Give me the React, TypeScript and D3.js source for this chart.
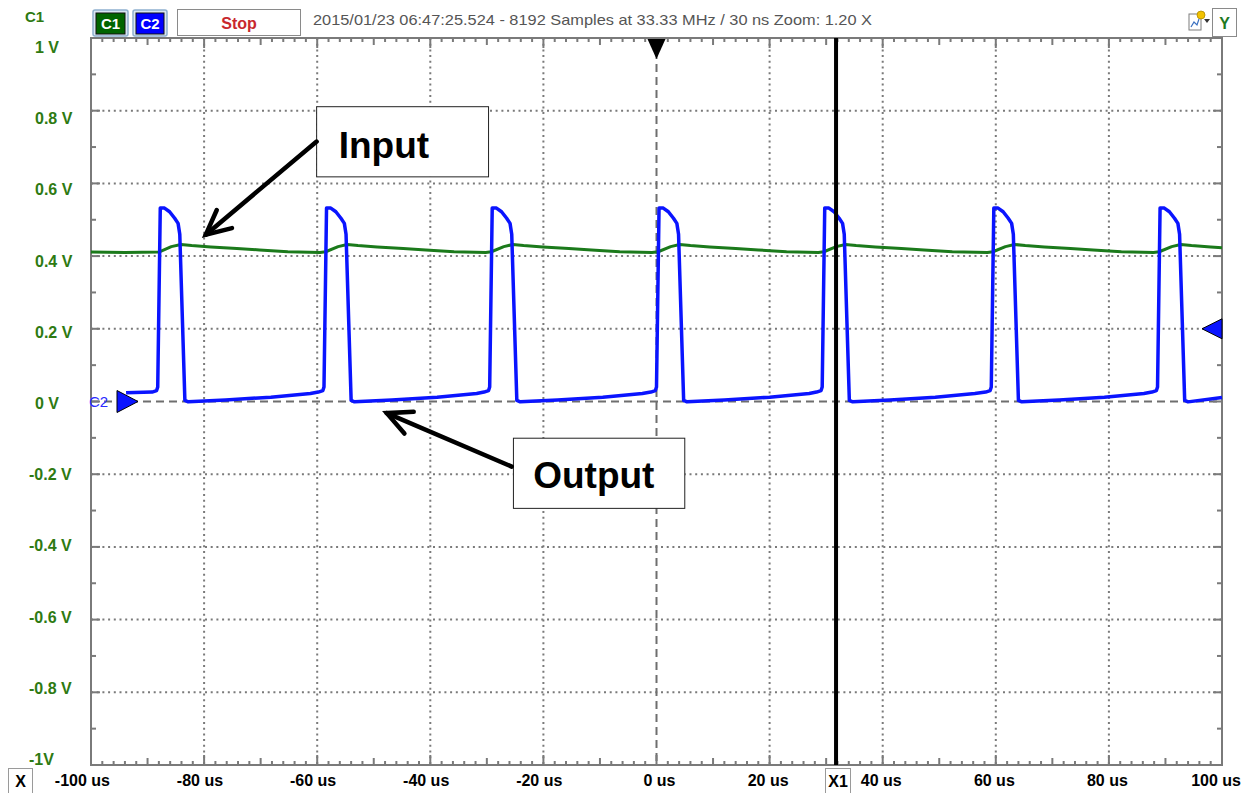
import React from "react";
import * as d3 from "d3";

const layout = {
  width: 1253,
  height: 793,
  left: 91,
  right: 1222,
  top: 38,
  bottom: 765
};

// time axis (us) and voltage axis (V)
const timeTicks = [-100, -80, -60, -40, -20, 0, 20, 40, 60, 80, 100];
const voltTicks = [1, 0.8, 0.6, 0.4, 0.2, 0, -0.2, -0.4, -0.6, -0.8, -1];
const voltLabels = ["1 V", "0.8 V", "0.6 V", "0.4 V", "0.2 V", "0 V", "-0.2 V", "-0.4 V", "-0.6 V", "-0.8 V", "-1V"];

const cursorX1 = 31.75;
const triggerLevel = 0.2;

// C1 - input (green), [time us, volts]
const inputTrace = [
  [-100, 0.411], [-94, 0.41], [-88.0, 0.411], [-85.8, 0.426], [-84.1, 0.432], [-82.2, 0.429],
  [-78.8, 0.425], [-74.2, 0.421], [-70.2, 0.417], [-65.2, 0.412], [-59.5, 0.41],
  [-58.5, 0.412], [-56.3, 0.426], [-54.7, 0.432], [-52.8, 0.429], [-49.4, 0.425],
  [-44.8, 0.421], [-40.8, 0.417], [-35.8, 0.412], [-30.2, 0.41],
  [-29.2, 0.412], [-27.0, 0.426], [-25.4, 0.432], [-23.5, 0.429], [-20.1, 0.425],
  [-15.5, 0.421], [-11.5, 0.417], [-6.5, 0.412], [-0.8, 0.41],
  [0.3, 0.412], [2.5, 0.426], [4.1, 0.432], [6.0, 0.429], [9.4, 0.425],
  [14.0, 0.421], [18.0, 0.417], [23.0, 0.412], [28.6, 0.41],
  [29.6, 0.412], [31.8, 0.426], [33.4, 0.432], [35.3, 0.429], [38.7, 0.425],
  [43.3, 0.421], [47.3, 0.417], [52.3, 0.412], [58.5, 0.41],
  [59.5, 0.412], [61.7, 0.426], [63.3, 0.432], [65.2, 0.429], [68.6, 0.425],
  [73.2, 0.421], [77.2, 0.417], [82.2, 0.412], [87.9, 0.41],
  [88.9, 0.412], [91.1, 0.426], [92.7, 0.432], [94.6, 0.429], [98.0, 0.425], [100, 0.423]
];

// C2 - output (blue), [time us, volts]
const outputTrace = [
  [-93.8, 0.024], [-89.2, 0.026], [-88.4, 0.03], [-88.2, 0.04], [-87.75, 0.532], [-87.0, 0.532],
  [-86.1, 0.522], [-85.2, 0.504], [-84.6, 0.49], [-84.3, 0.46], [-83.4, 0.003], [-82.8, -0.001],
  [-76.2, 0.004], [-68.2, 0.012], [-61.2, 0.022], [-59.8, 0.026],
  [-59.0, 0.03], [-58.8, 0.04], [-58.35, 0.532], [-57.6, 0.532], [-56.7, 0.522], [-55.8, 0.504],
  [-55.2, 0.49], [-54.9, 0.46], [-54.0, 0.003], [-53.4, -0.001], [-46.8, 0.004], [-38.8, 0.012],
  [-31.8, 0.022], [-30.5, 0.026],
  [-29.7, 0.03], [-29.5, 0.04], [-29.05, 0.532], [-28.3, 0.532], [-27.4, 0.522], [-26.5, 0.504],
  [-25.9, 0.49], [-25.6, 0.46], [-24.7, 0.003], [-24.1, -0.001], [-17.5, 0.004], [-9.5, 0.012],
  [-2.5, 0.022], [-1.0, 0.026],
  [-0.2, 0.03], [0, 0.04], [0.45, 0.532], [1.2, 0.532], [2.1, 0.522], [3.0, 0.504],
  [3.6, 0.49], [3.9, 0.46], [4.8, 0.003], [5.4, -0.001], [12.0, 0.004], [20.0, 0.012],
  [27.0, 0.022], [28.3, 0.026],
  [29.1, 0.03], [29.3, 0.04], [29.75, 0.532], [30.5, 0.532], [31.4, 0.522], [32.3, 0.504],
  [32.9, 0.49], [33.2, 0.46], [34.1, 0.003], [34.7, -0.001], [41.3, 0.004], [49.3, 0.012],
  [56.3, 0.022], [58.2, 0.026],
  [59.0, 0.03], [59.2, 0.04], [59.65, 0.532], [60.4, 0.532], [61.3, 0.522], [62.2, 0.504],
  [62.8, 0.49], [63.1, 0.46], [64.0, 0.003], [64.6, -0.001], [71.2, 0.004], [79.2, 0.012],
  [86.2, 0.022], [87.6, 0.026],
  [88.4, 0.03], [88.6, 0.04], [89.05, 0.532], [89.8, 0.532], [90.7, 0.522], [91.6, 0.504],
  [92.2, 0.49], [92.5, 0.46], [93.4, 0.003], [94.0, -0.001], [100, 0.011]
];

// callouts in data units: box [t0, t1, v0, v1], text anchor, arrow start and tip
const callouts = [
  { label: "Input", box: [-60.1, -29.7, 0.811, 0.618], text: [-56.2, 0.669], from: [-60.1, 0.715], tip: [-79.7, 0.459] },
  { label: "Output", box: [-25.3, 5.0, -0.101, -0.294], text: [-21.8, -0.239], from: [-25.6, -0.179], tip: [-47.7, -0.032] }
];

const sans = "'Liberation Sans', Arial, sans-serif";
const labelGreen = "#2e7a12";

const App = () => {
  const xScale = d3.scaleLinear().domain([-100, 100]).range([layout.left, layout.right]);
  const yScale = d3.scaleLinear().domain([-1, 1]).range([layout.bottom, layout.top]);
  const labelY = d3.scaleLinear().domain([1, -1]).range([53, 765]);

  const lineGenerator = d3.line<number[]>()
    .x(d => xScale(d[0]))
    .y(d => yScale(d[1]));

  // frame ticks
  const hTicks = d3.range(0, 101).map(k => ({ t: -100 + k * 2, len: k % 10 === 0 ? 10 : k % 5 === 0 ? 7 : 4 }));
  const vTicks = d3.range(0, 21).map(k => ({ v: -1 + k * 0.1, len: k % 2 === 0 ? 9 : 5 }));

  const x0 = xScale(0);
  const y0 = yScale(0);
  const cx = xScale(cursorX1);
  const ty = yScale(triggerLevel);

  const arrowHead = (from, tip) => {
    const fx = xScale(from[0]), fy = yScale(from[1]);
    const tx = xScale(tip[0]), ty2 = yScale(tip[1]);
    const ang = Math.atan2(fy - ty2, fx - tx);
    const len = 27;
    const spread = (26 * Math.PI) / 180;
    const a = [tx + len * Math.cos(ang - spread), ty2 + len * Math.sin(ang - spread)];
    const b = [tx + len * Math.cos(ang + spread), ty2 + len * Math.sin(ang + spread)];
    return `M${a[0]},${a[1]} L${tx},${ty2} L${b[0]},${b[1]}`;
  };

  return (
    <svg
      width={layout.width}
      height={layout.height}
      style={{ position: "absolute", left: 0, top: 0, background: "#fff" }}
    >
      <rect width={layout.width} height={layout.height} fill="#fff" />

      {/* header */}
      <text x={25} y={22} fontFamily={sans} fontWeight="bold" fontSize={15} fill={labelGreen}>C1</text>
      <rect x={93} y={10} width={35} height={26} fill="#d8e6f3" stroke="#8fb0cf" strokeWidth={1.5} rx={2} />
      <rect x={96} y={13} width={29} height={21} fill="#006400" stroke="#111" strokeWidth={1} />
      <text x={110.5} y={29} textAnchor="middle" fontFamily={sans} fontWeight="bold" fontSize={15} fill="#fff">C1</text>
      <rect x={133} y={10} width={34} height={26} fill="#d8e6f3" stroke="#8fb0cf" strokeWidth={1.5} rx={2} />
      <rect x={136} y={13} width={28} height={21} fill="#0000ff" stroke="#111" strokeWidth={1} />
      <text x={150} y={29} textAnchor="middle" fontFamily={sans} fontWeight="bold" fontSize={15} fill="#fff">C2</text>
      <rect x={177.5} y={9.5} width={123} height={26} fill="#fff" stroke="#8a8a8a" strokeWidth={1} />
      <text x={239} y={29} textAnchor="middle" fontFamily={sans} fontWeight="bold" fontSize={16} fill="#c8282d">Stop</text>
      <text
        x={313}
        y={25}
        fontFamily="'Liberation Sans Narrow', 'Liberation Sans', Arial, sans-serif"
        fontSize={15}
        fill="#555"
        textLength={559}
        lengthAdjust="spacingAndGlyphs"
      >
        2015/01/23 06:47:25.524 - 8192 Samples at 33.33 MHz / 30 ns Zoom: 1.20 X
      </text>
      <g>
        <rect x={1189} y={14} width={12} height={16} fill="#fff" stroke="#7d7d7d" strokeWidth={1} />
        <path d="M1191,27 L1194,22 L1197,25 L1199,19" fill="none" stroke="#3a70c0" strokeWidth={1.2} />
        <circle cx={1201} cy={15} r={4} fill="#f2c200" stroke="#b08a00" strokeWidth={0.8} />
        <path d="M1204,19 L1210,19 L1207,23 Z" fill="#333" />
      </g>
      <rect x={1212.5} y={8.5} width={24} height={28} fill="#fff" stroke="#8a8a8a" strokeWidth={1} />
      <text x={1224.5} y={29} textAnchor="middle" fontFamily={sans} fontWeight="bold" fontSize={16} fill="#1f7a1f">Y</text>

      {/* dotted grid */}
      {timeTicks.filter(t => t !== 0 && Math.abs(t) !== 100).map(t => (
        <line key={"gx" + t} x1={xScale(t)} x2={xScale(t)} y1={layout.top} y2={layout.bottom}
          stroke="#7a7a7a" strokeWidth={2} strokeDasharray="2 3.7" />
      ))}
      {voltTicks.filter(v => v !== 0 && Math.abs(v) !== 1).map(v => (
        <line key={"gy" + v} x1={layout.left} x2={layout.right} y1={yScale(v)} y2={yScale(v)}
          stroke="#7a7a7a" strokeWidth={2} strokeDasharray="2 3.7" />
      ))}
      {/* centre lines */}
      <line x1={x0} x2={x0} y1={layout.top} y2={layout.bottom} stroke="#6e6e6e" strokeWidth={2} strokeDasharray="8 5" />
      <line x1={layout.left} x2={layout.right} y1={y0} y2={y0} stroke="#6e6e6e" strokeWidth={2} strokeDasharray="8 5" />

      {/* frame */}
      <rect x={layout.left} y={layout.top} width={layout.right - layout.left} height={layout.bottom - layout.top}
        fill="none" stroke="#7a7a7a" strokeWidth={2} />
      {hTicks.map(d => (
        <g key={"ht" + d.t}>
          <line x1={xScale(d.t)} x2={xScale(d.t)} y1={layout.top} y2={layout.top + d.len} stroke="#7a7a7a" strokeWidth={2} />
          <line x1={xScale(d.t)} x2={xScale(d.t)} y1={layout.bottom} y2={layout.bottom - d.len} stroke="#7a7a7a" strokeWidth={2} />
        </g>
      ))}
      {vTicks.map((d, i) => (
        <g key={"vt" + i}>
          <line x1={layout.left} x2={layout.left + d.len} y1={yScale(d.v)} y2={yScale(d.v)} stroke="#7a7a7a" strokeWidth={2} />
          <line x1={layout.right} x2={layout.right - d.len} y1={yScale(d.v)} y2={yScale(d.v)} stroke="#7a7a7a" strokeWidth={2} />
        </g>
      ))}

      {/* voltage labels */}
      {voltTicks.map((v, i) => (
        <text key={"yl" + i} x={v < 0 ? 29 : 35} y={labelY(v)} fontFamily={sans} fontWeight="bold" fontSize={16} fill={labelGreen}>
          {voltLabels[i]}
        </text>
      ))}
      {/* time labels */}
      {timeTicks.map(t => (
        <text key={"xl" + t} x={xScale(t) + 19} y={786} textAnchor="end" fontFamily={sans} fontWeight="bold" fontSize={16} fill="#000">
          {t + " us"}
        </text>
      ))}

      {/* C2 ground label */}
      <text x={89} y={407} fontFamily={sans} fontSize={15} fill="#2a2aff">C2</text>

      {/* traces */}
      <path d={lineGenerator(inputTrace)} fill="none" stroke="#1b7a1b" strokeWidth={3} strokeLinejoin="round" />
      <path d={lineGenerator(outputTrace)} fill="none" stroke="#0a14ff" strokeWidth={3.5} strokeLinejoin="round" />

      {/* markers */}
      <path d={`M${x0 - 9},${layout.top + 1} L${x0 + 9},${layout.top + 1} L${x0},${layout.top + 21} Z`} fill="#000" />
      <path d={`M${layout.right - 20},${ty} L${layout.right},${ty - 10} L${layout.right},${ty + 10} Z`} fill="#0a14ff" stroke="#000" strokeWidth={1} />
      <path d={`M117,${y0 - 11} L138,${y0} L117,${y0 + 11} Z`} fill="#0a14ff" stroke="#000" strokeWidth={1} />

      {/* cursor X1 */}
      <line x1={cx} x2={cx} y1={layout.top} y2={layout.bottom} stroke="#000" strokeWidth={4} />
      <rect x={825.5} y={768.5} width={25} height={26} fill="#fff" stroke="#9a9a9a" strokeWidth={1} />
      <text x={838} y={787} textAnchor="middle" fontFamily={sans} fontWeight="bold" fontSize={16} fill="#000">X1</text>
      <rect x={8.5} y={768.5} width={24} height={26} fill="#fff" stroke="#9a9a9a" strokeWidth={1} />
      <text x={20.5} y={787} textAnchor="middle" fontFamily={sans} fontWeight="bold" fontSize={16} fill="#000">X</text>

      {/* callouts */}
      {callouts.map(c => (
        <g key={c.label}>
          <rect
            x={xScale(c.box[0])}
            y={yScale(c.box[2])}
            width={xScale(c.box[1]) - xScale(c.box[0])}
            height={yScale(c.box[3]) - yScale(c.box[2])}
            fill="#fff"
            stroke="#222"
            strokeWidth={1}
          />
          <text x={xScale(c.text[0])} y={yScale(c.text[1])} fontFamily={sans} fontWeight="bold" fontSize={37} fill="#000">
            {c.label}
          </text>
          <line x1={xScale(c.from[0])} y1={yScale(c.from[1])} x2={xScale(c.tip[0])} y2={yScale(c.tip[1])}
            stroke="#000" strokeWidth={4.5} strokeLinecap="round" />
          <path d={arrowHead(c.from, c.tip)} fill="none" stroke="#000" strokeWidth={4.5} strokeLinecap="round" strokeLinejoin="miter" />
        </g>
      ))}
    </svg>
  );
};

export default App;
